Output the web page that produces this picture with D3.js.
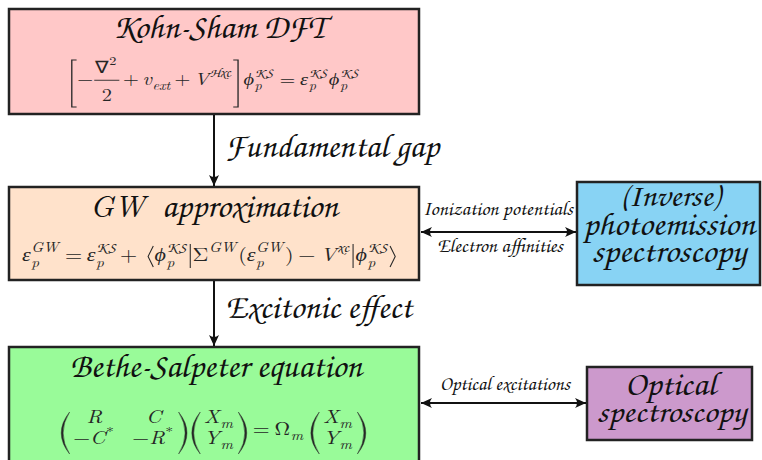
<!DOCTYPE html>
<html><head><meta charset="utf-8">
<script src="https://cdn.jsdelivr.net/npm/d3@7"></script>
<style>html,body{margin:0;padding:0;background:#fff;} svg{display:block}</style>
</head><body><div id="c"></div>
<script>
// ---------- data (text content) ----------
const mainTitles = ["Kohn-Sham DFT", "GW approximation", "Bethe-Salpeter equation"];
const stepLabels = ["Fundamental gap", "Excitonic effect"];
const sideTitles = [["(Inverse)", "photoemission", "spectroscopy"], ["Optical", "spectroscopy"]];
const linkLabels = [["Ionization potentials", "Electron affinities"], ["Optical excitations"]];

// ---------- layout / style ----------
const W = 762, H = 460;
const SCRIPT = '"TeX Gyre Chorus", "URW Chancery L", "Liberation Serif", serif';
const MATH = '"Latin Modern Roman", "CMU Serif", "Liberation Serif", serif';
const INK = "#111";
const MATHINK = "#262626";
const mainFill = ["#ffc8c8", "#ffe2cb", "#99fb99"];
const sideFill = ["#88d3f4", "#cc99cc"];
const mainX = [9, 419];
const mainY = [[9, 114], [187, 280], [347, 474]];
const sideBox = [[577, 182, 760, 285], [587, 367, 752, 440]];
const titlePos = [[113, 325, 38], [90, 338, 217], [70, 362, 377]];
const stepPos = [[225, 439, 157], [225, 412, 318]];
const sidePos = [
  [[620, 720, 206], [583, 755, 235], [592, 746, 262]],
  [[625, 716, 395], [597, 746, 422]]
];
const linkPos = [[[423, 573, 215], [437, 563, 252]], [[440, 570, 390]]];
const linkY = [232, 403];
const arrowX = 214;

const svg = d3.select("#c").append("svg").attr("width", W).attr("height", H);

const defs = svg.append("defs");
defs.append("marker").attr("id", "ah")
  .attr("viewBox", "-12 -6 13 12").attr("refX", 0).attr("refY", 0)
  .attr("markerWidth", 13).attr("markerHeight", 12)
  .attr("markerUnits", "userSpaceOnUse").attr("orient", "auto-start-reverse")
  .append("path").attr("d", "M0,0 L-11,-5 Q-7,0 -11,5 Z").attr("fill", INK);

const tmp = svg.append("text").style("visibility", "hidden");
function mw(s, size, it, font) {
  tmp.style("font-family", font || MATH).style("font-size", size + "px")
    .style("font-style", it ? "italic" : "normal").text(s);
  return tmp.node().getComputedTextLength();
}
function scriptSize(s, target) { return Math.min(60, 20 * target / mw(s, 20, false, SCRIPT)); }

// script-font label fitted to its measured extent in the reference
function fitText(g, s, x0, x1, y) {
  return g.append("text").attr("x", x0).attr("y", y)
    .style("font-family", SCRIPT).style("font-size", scriptSize(s, x1 - x0) + "px").style("font-style", "normal")
    .attr("fill", INK)
    .attr("textLength", x1 - x0).attr("lengthAdjust", "spacingAndGlyphs").text(s);
}

// ---------- boxes ----------
mainTitles.forEach((t, i) => {
  svg.append("rect").attr("x", mainX[0]).attr("y", mainY[i][0])
    .attr("width", mainX[1] - mainX[0]).attr("height", mainY[i][1] - mainY[i][0])
    .attr("fill", mainFill[i]).attr("stroke", "#222").attr("stroke-width", 2.5);
  const p = titlePos[i];
  if (t.startsWith("GW ")) {
    // "GW" set as a math symbol, the rest in the script face
    const rest = t.slice(3);
    const restStart = p[0] + 72;
    const txt = svg.append("text").attr("y", p[2]).attr("fill", INK);
    txt.append("tspan").attr("x", p[0])
      .style("font-family", MATH).style("font-style", "italic").style("font-size", "31px").text("GW");
    txt.append("tspan").attr("x", restStart)
      .style("font-family", SCRIPT).style("font-style", "normal")
      .style("font-size", scriptSize(rest, p[1] - restStart) + "px")
      .attr("textLength", p[1] - restStart).attr("lengthAdjust", "spacingAndGlyphs").text(rest);
  } else {
    fitText(svg, t, p[0], p[1], p[2]);
  }
});
sideTitles.forEach((lines, i) => {
  const b = sideBox[i];
  svg.append("rect").attr("x", b[0]).attr("y", b[1]).attr("width", b[2] - b[0]).attr("height", b[3] - b[1])
    .attr("fill", sideFill[i]).attr("stroke", "#222").attr("stroke-width", 2.5);
  const txt = svg.append("text").attr("fill", INK)
    .style("font-family", SCRIPT).style("font-style", "normal");
  lines.forEach((l, j) => {
    const p = sidePos[i][j];
    txt.append("tspan").attr("x", p[0]).attr("y", p[2])
      .style("font-size", scriptSize(l, p[1] - p[0]) * 0.95 + "px")
      .attr("textLength", p[1] - p[0]).attr("lengthAdjust", "spacingAndGlyphs").text(l);
  });
});

// ---------- vertical arrows ----------
const vArrows = [[mainY[0][1] + 1, mainY[1][0] - 1], [mainY[1][1] + 1, mainY[2][0] - 1]];
vArrows.forEach((a, i) => {
  svg.append("line").attr("x1", arrowX).attr("x2", arrowX).attr("y1", a[0]).attr("y2", a[1])
    .attr("stroke", INK).attr("stroke-width", 2).attr("marker-end", "url(#ah)");
  const p = stepPos[i];
  fitText(svg, stepLabels[i], p[0], p[1], p[2]);
});

// ---------- horizontal double arrows ----------
linkY.forEach((y, i) => {
  svg.append("line").attr("x1", mainX[1] + 2).attr("x2", sideBox[i][0] - 1).attr("y1", y).attr("y2", y)
    .attr("stroke", INK).attr("stroke-width", 2)
    .attr("marker-start", "url(#ah)").attr("marker-end", "url(#ah)");
  linkLabels[i].forEach((l, j) => {
    const p = linkPos[i][j];
    fitText(svg, l, p[0], p[1], p[2]);
  });
});

// ---------- tiny math layout engine ----------
function T(s, size, it, font) {
  const w = mw(s, size, it, font);
  return { w, s, size, it, font, render(g, x, y) {
    g.append("text").attr("x", x).attr("y", y)
      .style("font-family", font || MATH).style("font-size", size + "px")
      .style("font-style", it ? "italic" : "normal").attr("fill", MATHINK).text(s);
  } };
}
function Sp(w) { return { w, render() {} }; }
function Row(items) {
  return { w: d3.sum(items, d => d.w), render(g, x, y) {
    let cx = x; for (const it of items) { it.render(g, cx, y); cx += it.w; }
  } };
}
// base with sub/superscripts, drawn as one text element with tspans
function SS(base, sub, sup, size, upright) {
  const s2 = size * 0.7;
  const a = sub != null ? T(sub, s2, true) : null;
  let b = null;
  if (sup != null) {
    b = typeof sup === "string" ? T(sup, s2, !upright) : T(sup.s, s2 * 1.05, false, SCRIPT);
  }
  const w = base.w + 1 + Math.max(a ? a.w : 0, b ? b.w : 0) + 1;
  return { w, render(g, x, y) {
    const txt = g.append("text").attr("fill", MATHINK);
    const add = (t, tx, ty) => txt.append("tspan").attr("x", tx).attr("y", ty)
      .style("font-family", t.font || MATH).style("font-size", t.size + "px")
      .style("font-style", t.it ? "italic" : "normal").text(t.s);
    add(base, x, y);
    const sx = x + base.w + 0.5;
    if (b) add(b, sx, y - size * 0.45);
    if (a) add(a, sx, y + size * 0.3);
  } };
}
const CAL = s => ({ s });
function Frac(num, den, size) {
  const w = Math.max(num.w, den.w) + 4;
  return { w, render(g, x, y) {
    const ly = y - size * 0.28;
    num.render(g, x + (w - num.w) / 2, y - size * 0.72);
    den.render(g, x + (w - den.w) / 2, y + size * 0.95);
    g.append("line").attr("x1", x + 1).attr("x2", x + w - 1).attr("y1", ly).attr("y2", ly)
      .attr("stroke", MATHINK).attr("stroke-width", 0.9);
  } };
}
function Delim(kind, top, bot) {
  const w = (kind === "[" || kind === "]") ? 6 : (kind === "(" || kind === ")") ? 9 : kind === "|" ? 4 : 7;
  return { w, render(g, x, y) {
    const yt = y + top, yb = y + bot, ym = (yt + yb) / 2;
    let d, fill = "none", sw = 1.1;
    if (kind === "[") d = `M${x + w - 0.5},${yt} H${x + 1.5} V${yb} H${x + w - 0.5}`;
    else if (kind === "]") d = `M${x + 0.5},${yt} H${x + w - 1.5} V${yb} H${x + 0.5}`;
    else if (kind === "(") {
      const xr = x + w - 1, o = x + 1, inn = x + 2.6;
      d = `M${xr},${yt} Q${2 * o - xr},${ym} ${xr},${yb} Q${2 * inn - xr},${ym} ${xr},${yt} Z`;
      fill = MATHINK; sw = 0.4;
    } else if (kind === ")") {
      const xl = x + 1, o = x + w - 1, inn = x + w - 2.6;
      d = `M${xl},${yt} Q${2 * o - xl},${ym} ${xl},${yb} Q${2 * inn - xl},${ym} ${xl},${yt} Z`;
      fill = MATHINK; sw = 0.4;
    } else if (kind === "<") { d = `M${x + w - 1},${yt} L${x + 1.5},${ym} L${x + w - 1},${yb}`; sw = 0.9; }
    else if (kind === ">") { d = `M${x + 1},${yt} L${x + w - 1.5},${ym} L${x + 1},${yb}`; sw = 0.9; }
    else if (kind === "|") { d = `M${x + w / 2},${yt} V${yb}`; sw = 0.9; }
    g.append("path").attr("d", d).attr("fill", fill).attr("stroke", MATHINK).attr("stroke-width", sw);
  } };
}
function Matrix(rows, gap, dys) {
  const nc = rows[0].length;
  const cw = d3.range(nc).map(j => d3.max(rows, r => r[j].w));
  const w = d3.sum(cw) + gap * (nc - 1) + 4;
  return { w, render(g, x, y) {
    rows.forEach((r, i) => {
      let cx = x + 2;
      r.forEach((c, j) => { c.render(g, cx + (cw[j] - c.w) / 2, y + dys[i]); cx += cw[j] + gap; });
    });
  } };
}
function place(box, x0, x1, y) {
  const sx = (x1 - x0) / box.w;
  const g = svg.append("g").attr("transform", `translate(${x0},0) scale(${sx},1)`);
  box.render(g, 0, y);
}

// Equation 1 (Kohn-Sham)
{
  const s = 17;
  const phi = () => SS(T("ϕ", s, true), "p", CAL("KS"), s);
  const eq = Row([
    Delim("[", -25, 22), T("−", s), Frac(SS(T("∇", s), null, "2", s, true), T("2", s), s), Sp(2), T("+", s), Sp(3),
    SS(T("v", s, true), "ext", null, s), Sp(2), T("+", s), Sp(3),
    SS(T("V", s, true), null, CAL("Hxc"), s), Delim("]", -25, 22), Sp(3),
    phi(), Sp(4), T("=", s), Sp(4), SS(T("ε", s, true), "p", CAL("KS"), s), phi()
  ]);
  place(eq, 70, 360, 85);
}
// Equation 2 (GW)
{
  const s = 19;
  const phi = () => SS(T("ϕ", s, true), "p", CAL("KS"), s);
  const eq = Row([
    SS(T("ε", s, true), "p", "GW", s), Sp(4), T("=", s), Sp(4), SS(T("ε", s, true), "p", CAL("KS"), s), Sp(2),
    T("+", s), Sp(8), Delim("<", -15, 6), phi(), Delim("|", -17, 7),
    SS(T("Σ", s, false), null, "GW", s), T("(", s), SS(T("ε", s, true), "p", "GW", s), T(")", s), Sp(4),
    T("−", s), Sp(4), SS(T("V", s, true), null, CAL("xc"), s), Delim("|", -17, 7), phi(), Delim(">", -15, 6)
  ]);
  place(eq, 22, 397, 261);
}
// Equation 3 (BSE)
{
  const s = 18;
  const dys = [-12, 9];
  const X = () => SS(T("X", s, true), "m", null, s);
  const Y = () => SS(T("Y", s, true), "m", null, s);
  const vec = () => Row([Delim("(", -23, 19), Matrix([[X()], [Y()]], 0, dys), Delim(")", -23, 19)]);
  const eq = Row([
    Delim("(", -23, 19),
    Matrix([[T("R", s, true), T("C", s, true)],
            [Row([T("−", s), SS(T("C", s, true), null, "*", s, true)]), Row([T("−", s), SS(T("R", s, true), null, "*", s, true)])]], 14, dys),
    Delim(")", -23, 19), Sp(2), vec(), Sp(4), T("=", s), Sp(4),
    SS(T("Ω", s, false), "m", null, s), Sp(4), vec()
  ]);
  place(eq, 60, 367, 435);
}
tmp.remove();
</script></body></html>
